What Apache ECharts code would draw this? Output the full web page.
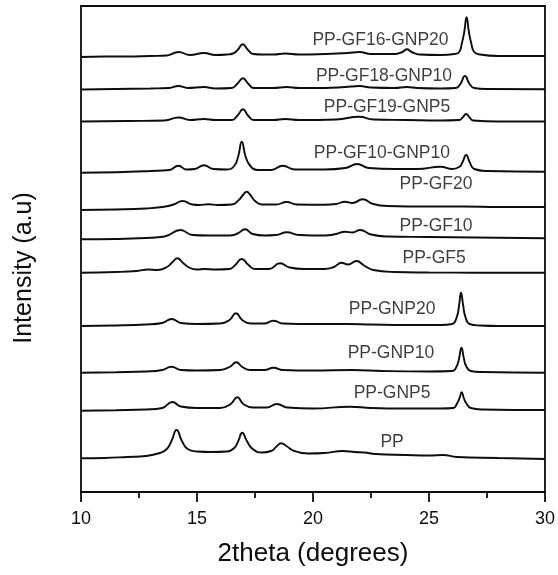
<!DOCTYPE html>
<html>
<head>
<meta charset="utf-8">
<script src="https://cdn.jsdelivr.net/npm/echarts@6/dist/echarts.min.js"></script>
<style>
html,body{margin:0;padding:0;background:#fff;}
#chart{width:558px;height:575px;}
</style>
</head>
<body>
<div id="chart"></div>
<script>
// x ticks
var xTicks = [10, 15, 20, 25, 30];

// sample names (top to bottom)
var names = ["PP-GF16-GNP20","PP-GF18-GNP10","PP-GF19-GNP5","PP-GF10-GNP10","PP-GF20","PP-GF10","PP-GF5","PP-GNP20","PP-GNP10","PP-GNP5","PP"];

// stacked intensity (a.u., with vertical offsets), points [2theta, intensity]
var gf16gnp20 = [[10,435],[11,435.5],[12,435.5],[13,436],[13.7,436.5],[14.2,440],[14.7,437],[15.3,439],[15.8,437],[16.3,437.5],[16.55,438.5],[16.75,442],[16.97,447.7],[17.2,442],[17.42,438],[17.8,437.5],[18.3,437.5],[18.8,438.5],[19.4,437.5],[20.5,438],[21.5,439],[22.0,440],[22.5,438],[23.5,438],[23.85,440],[24.05,442.7],[24.25,440],[24.6,437.5],[25.5,437],[26.1,438],[26.3,440],[26.42,449],[26.52,460],[26.62,474.7],[26.72,460],[26.82,449],[26.95,440],[27.2,437.5],[28,436],[29,436],[30,436]];
var gf18gnp10 = [[10,402.5],[11.5,403],[13,403.5],[13.8,404],[14.2,406],[14.6,404],[15.3,405],[15.8,403.5],[16.5,404],[16.75,408.5],[16.98,413.7],[17.2,408.5],[17.45,404],[18.3,404],[18.85,405],[19.4,404],[20.5,404],[21.4,405],[22.0,406],[22.5,404.5],[23.5,404],[24.05,405],[24.5,404],[25.5,403.5],[26.15,404],[26.35,408],[26.55,416],[26.75,408],[26.95,404],[27.5,403],[30,402.7]];
var gf19gnp5 = [[10,370.5],[12,371],[13.6,371.5],[14.2,374.5],[14.7,372],[15.3,373],[15.8,372],[16.5,372],[16.75,376.5],[16.98,382.7],[17.2,376.5],[17.45,372],[18.3,372],[18.8,373],[19.4,372],[21,372.5],[22.0,375.3],[22.6,372.5],[24,372],[25.5,371.5],[26.3,372],[26.45,374.5],[26.6,378],[26.75,374.5],[26.9,371.5],[28,370.5],[30,370.5]];
var gf10gnp10 = [[10,319.3],[11.5,319.8],[13,321],[13.8,322],[14.2,326.3],[14.55,322.5],[14.9,323],[15.3,326.7],[15.7,323],[16.3,322.5],[16.6,326],[16.77,335],[16.93,350.3],[17.1,335],[17.3,326],[17.6,322],[18.2,322],[18.7,326.3],[19.2,322.5],[20.5,322.5],[21.4,324],[21.9,328],[22.4,324],[23.5,323],[24.5,323],[25.5,325.3],[26.0,323],[26.3,325],[26.45,330],[26.6,337],[26.75,330],[26.95,323],[27.5,321],[30,320.3]];
var gf20 = [[10,282],[11.5,282.5],[12.8,283.5],[13.5,285],[14.0,287.5],[14.38,291],[14.8,287.5],[15.1,287],[15.49,287.7],[15.9,287],[16.5,287.5],[16.8,292],[17.0,297.5],[17.14,300.3],[17.3,297],[17.5,291],[17.8,287.5],[18.4,287.5],[18.87,290],[19.3,287.5],[20.5,287.3],[21.0,288],[21.38,290.3],[21.7,289],[22.14,292.7],[22.6,288],[23.2,286],[25,285.5],[26.5,285.5],[28,285],[30,285]];
var gf10 = [[10,252.7],[11.5,253],[12.8,254],[13.6,255.5],[14.29,262],[14.8,257],[15.5,256.5],[16.4,256.5],[16.75,258.5],[17.07,262.7],[17.4,258],[17.9,256.5],[18.4,257],[18.87,259.7],[19.4,257],[20.5,256.5],[21.0,258],[21.38,260.3],[21.7,259.5],[22.03,262],[22.5,257.5],[23.2,255.5],[25,255],[27,254.5],[30,253.7]];
var gf5 = [[10,219.3],[11.5,220],[12.4,221],[12.9,222.5],[13.3,222],[13.7,225],[13.95,230],[14.15,233.7],[14.4,229],[14.7,224],[15.0,222.5],[15.34,223],[15.8,222.5],[16.4,223],[16.65,227],[16.93,233],[17.2,227.5],[17.5,223],[18.1,223],[18.58,228.7],[19.0,224.5],[19.6,223],[20.5,223],[20.9,225],[21.23,229.3],[21.5,227.5],[21.88,231],[22.2,226.5],[22.6,222],[23.5,220],[25,219.5],[27,219.3],[30,219.3]];
var gnp20 = [[10,166],[11.5,166.5],[12.8,167.5],[13.5,169],[13.91,173],[14.3,169],[15,168],[16,168.5],[16.4,172],[16.68,178.7],[16.95,172],[17.3,168.5],[17.9,168.5],[18.29,171.3],[18.7,168.5],[20,168],[21.5,168],[22.5,167.5],[24,167],[25.5,167],[26.0,168],[26.2,175],[26.3,187],[26.38,199.3],[26.47,187],[26.57,175],[26.75,168],[27.2,166.5],[28,166],[30,166]];
var gnp10 = [[10,119.3],[11.5,119.8],[12.8,120.5],[13.5,122],[13.9,125.3],[14.3,122],[15,121.5],[16,122],[16.4,125],[16.7,129.7],[16.95,125],[17.3,122],[17.9,122],[18.3,124.3],[18.7,122],[20,121.5],[21.7,122],[23,121],[25,120.5],[26.0,121],[26.2,126],[26.3,134],[26.4,144.3],[26.5,134],[26.6,126],[26.8,121],[27.3,120],[30,119.3]];
var gnp5 = [[10,81.3],[11.5,81.8],[12.8,82.5],[13.5,84],[13.94,90],[14.3,85.5],[15,84],[16,84],[16.45,88],[16.74,94.7],[17.0,88],[17.4,84.5],[18.0,84.5],[18.44,88],[18.9,84.5],[20,83.5],[21.6,85.3],[22.5,84],[24,83.5],[25.5,83.5],[26.05,84],[26.22,89],[26.32,94],[26.41,99.7],[26.5,94],[26.6,89],[26.8,84],[27.3,82.5],[30,82]];
var pp = [[10,33.7],[11,34],[12,35],[12.8,36],[13.4,39],[13.7,43],[13.9,51],[14.12,62],[14.35,51],[14.6,43],[15.0,40.5],[15.6,40],[16.3,40.5],[16.6,44],[16.78,51],[16.95,59.3],[17.15,51],[17.4,43],[17.8,39.5],[18.2,41],[18.45,46],[18.62,48.7],[18.85,46],[19.2,41],[19.8,38.5],[20.5,39],[21.3,41],[21.8,40],[22.2,39.5],[22.7,38],[24,37],[25.0,36.5],[25.6,37],[26.2,35],[28,34],[30,33]];

var curves = [gf16gnp20, gf18gnp10, gf19gnp5, gf10gnp10, gf20, gf10, gf5, gnp20, gnp10, gnp5, pp];

// label anchors (2theta, intensity) for each curve name
var labelX = [22.91, 23.06, 23.19, 22.97, 25.30, 25.30, 25.22, 23.41, 23.36, 23.41, 23.41];
var labelY = [452, 416, 384.7, 339.3, 308, 266, 233.7, 182.7, 139.3, 98.7, 50.3];

var FONT = '"Liberation Sans", Arial, Helvetica, sans-serif';
var chart = echarts.init(document.getElementById('chart'), null, {renderer: 'canvas'});

var series = curves.map(function (c, i) {
  return {
    name: names[i],
    type: 'line',
    data: c,
    showSymbol: false,
    symbol: 'none',
    smooth: 0.5,
    lineStyle: {color: '#0d0d0d', width: 1.9},
    silent: true,
    z: 3
  };
});
series.push({
  type: 'scatter',
  symbolSize: 0,
  silent: true,
  data: names.map(function (n, i) { return {value: [labelX[i], labelY[i]], name: n}; }),
  label: {
    show: true,
    position: 'inside',
    formatter: function (p) { return p.name; },
    fontFamily: FONT,
    fontSize: 17.5,
    color: '#0d0d0d'
  },
  z: 4
});

chart.setOption({
  animation: false,
  backgroundColor: '#ffffff',
  grid: {left: 81, right: 13, top: 6, bottom: 83, show: true, borderColor: '#0d0d0d', borderWidth: 1.8, backgroundColor: 'transparent'},
  xAxis: {
    type: 'value',
    min: xTicks[0],
    max: xTicks[xTicks.length - 1],
    interval: 5,
    name: '2theta (degrees)',
    nameLocation: 'middle',
    nameGap: 49,
    nameTextStyle: {fontFamily: FONT, fontSize: 26, color: '#0d0d0d'},
    axisLine: {show: true, lineStyle: {color: '#0d0d0d', width: 1.8}},
    axisTick: {show: true, inside: false, length: 10, lineStyle: {color: '#0d0d0d', width: 1.8}},
    minorTick: {show: true, splitNumber: 2, length: 6, lineStyle: {color: '#0d0d0d', width: 1.8}},
    axisLabel: {fontFamily: FONT, fontSize: 18, color: '#0d0d0d', margin: 18},
    splitLine: {show: false}
  },
  yAxis: {
    type: 'value',
    min: 0,
    max: 486,
    axisLine: {show: false},
    axisTick: {show: false},
    axisLabel: {show: false},
    splitLine: {show: false}
  },
  graphic: [{
    type: 'text',
    x: 24,
    y: 268,
    rotation: Math.PI / 2,
    style: {
      text: 'Intensity (a.u)',
      fontFamily: FONT,
      fontSize: 25,
      fill: '#0d0d0d',
      textAlign: 'center',
      textVerticalAlign: 'middle'
    }
  }],
  series: series
});
</script>
</body>
</html>
